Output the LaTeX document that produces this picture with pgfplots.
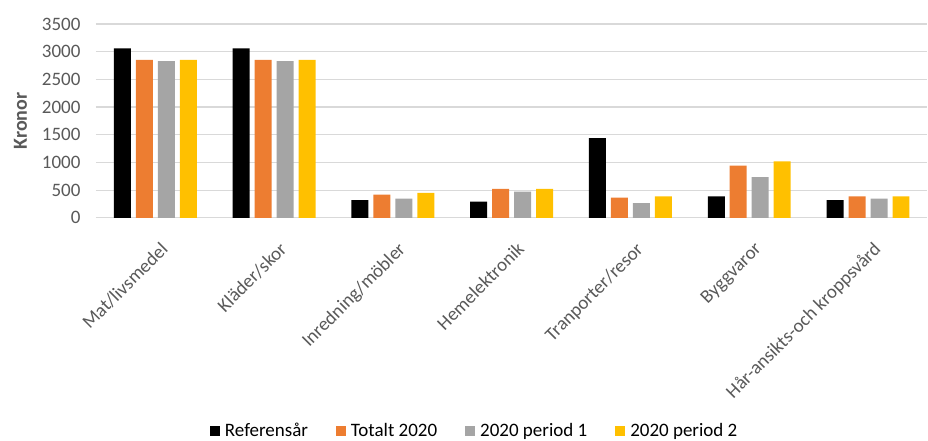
\documentclass[border=0pt]{standalone}
\usepackage{pgfplots}
\pgfplotsset{compat=1.18}
\usepackage{pgfplotstable}
\usepackage{fontspec}
\setmainfont{Carlito}

\definecolor{cRef}{HTML}{000000}
\definecolor{cTot}{HTML}{ED7D31}
\definecolor{cP1}{HTML}{A5A5A5}
\definecolor{cP2}{HTML}{FFC000}
\definecolor{txt}{HTML}{595959}
\definecolor{gridc}{HTML}{D9D9D9}

% x: 0 Mat, 1 Klader, 2 Inredning, 3 Hemelektronik, 4 Transport, 5 Byggvaror, 6 Har
\pgfplotstableread{
x ref tot p1 p2
0 3060 2850 2830 2850
1 3060 2850 2830 2850
2 320 420 345 450
3 295 525 475 525
4 1440 365 265 390
5 390 945 735 1020
6 320 390 345 390
}\data

\begin{document}
\begin{tikzpicture}
\begin{axis}[
    name=ax,
    scale only axis,
    width=832pt, height=194pt,
    xmin=-0.5, xmax=6.5,
    ymin=0, ymax=3500,
    ytick distance=500,
    xtick={0,...,6},
    xticklabels={Mat/livsmedel, Kläder/skor, Inredning/möbler, Hemelektronik, Tranporter/resor, Byggvaror, Hår-ansikts-och kroppsvård},
    x tick label style={rotate=45, anchor=north east, font=\fontsize{19}{22}\selectfont, text=txt, xshift=-10pt, yshift=-16pt},
    y tick label style={font=\fontsize{19}{22}\selectfont, text=txt, xshift=-12pt},
    /pgf/number format/assume math mode=true,
    /pgf/number format/1000 sep={},
    major tick length=0pt,
    ymajorgrids,
    grid style={gridc, line width=1.2pt},
    axis line style={draw=none},
    ylabel={\bfseries Kronor},
    ylabel style={font=\fontsize{20}{22}\selectfont, text=txt},
    ylabel shift=8pt,
    ybar, bar width=17pt,
    legend columns=4,
    legend style={at={(0.4555,-1.098)}, anchor=center, draw=none, fill=none,
        inner sep=0pt,
        font=\fontsize{19}{22}\selectfont, text=black,
        /tikz/every even column/.append style={column sep=26pt}},
    legend image code/.code={\fill[#1] (0pt,-5pt) rectangle (10pt,5pt); \path (13pt,0pt);},
]
\addplot[fill=cRef, draw=none, bar shift=-33pt] table[x=x, y=ref] {\data};
\addplot[fill=cTot, draw=none, bar shift=-11pt] table[x=x, y=tot] {\data};
\addplot[fill=cP1, draw=none, bar shift=11pt] table[x=x, y=p1] {\data};
\addplot[fill=cP2, draw=none, bar shift=33pt] table[x=x, y=p2] {\data};
\legend{Referensår, Totalt 2020, 2020 period 1, 2020 period 2}
\end{axis}
% page margins as in the reference
\path (ax.north west) ++(-96pt,24pt);
\path (ax.south east) ++(0pt,-223pt);
\end{tikzpicture}
\end{document}
